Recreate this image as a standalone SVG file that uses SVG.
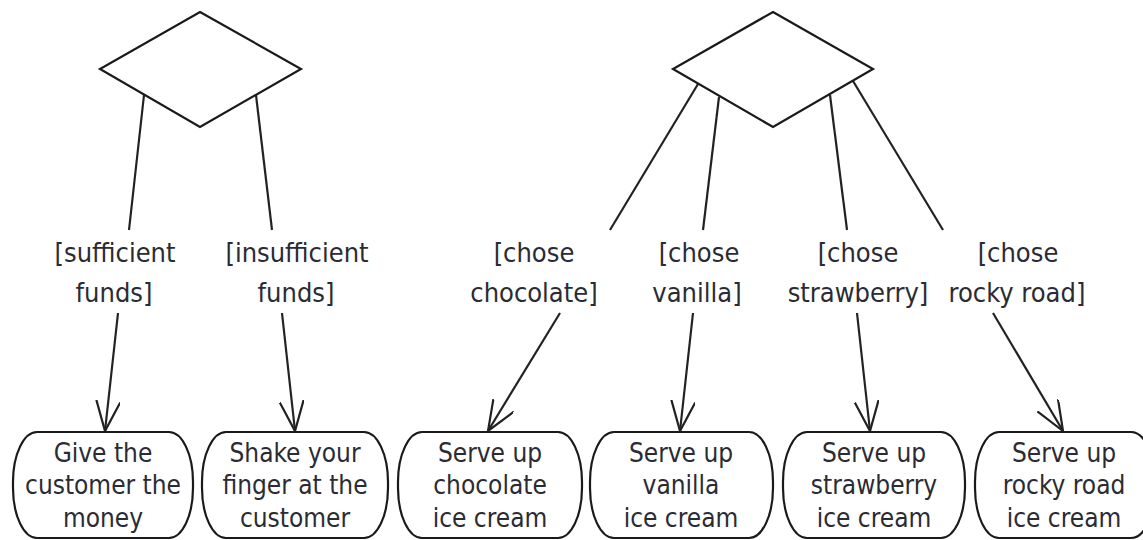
<svg xmlns="http://www.w3.org/2000/svg" width="1143" height="540" viewBox="0 0 1143 540">
<style>
.shape{fill:#fff;stroke:#1a1a1a;stroke-width:2.2}
.edge{fill:none;stroke:#222;stroke-width:2.2}
text{font-family:"DejaVu Sans Condensed","DejaVu Sans",sans-serif;font-stretch:condensed;font-size:26px;fill:#2b2b33;text-anchor:middle}
.lbl{font-size:27px}
</style>
<defs>
<marker id="arr" markerUnits="userSpaceOnUse" markerWidth="40" markerHeight="30" refX="30" refY="12" orient="auto" viewBox="0 0 40 30">
<path d="M0,0 L30,12 L0,24" fill="none" stroke="#222" stroke-width="2.2"/>
</marker>
</defs>
<rect width="1143" height="540" fill="#fff"/>
<g id="connectors">
<path class="edge" d="M144,95 L129,230"/>
<path class="edge" d="M118,313 L105,431" marker-end="url(#arr)"/>
<path class="edge" d="M256,95 L272,230"/>
<path class="edge" d="M282,313 L295,431" marker-end="url(#arr)"/>
<path class="edge" d="M698,84 L610,230"/>
<path class="edge" d="M560,313 L488,431" marker-end="url(#arr)"/>
<path class="edge" d="M719,97 L703,230"/>
<path class="edge" d="M693,313 L680,431" marker-end="url(#arr)"/>
<path class="edge" d="M830,95 L847,230"/>
<path class="edge" d="M857,313 L870,431" marker-end="url(#arr)"/>
<path class="edge" d="M853,81 L943,230"/>
<path class="edge" d="M993,313 L1063,431" marker-end="url(#arr)"/>
<g id="labels">
<text class="lbl" x="115" y="262">[sufficient</text><text class="lbl" x="114" y="302">funds]</text>
<text class="lbl" x="297" y="262">[insufficient</text><text class="lbl" x="296" y="302">funds]</text>
<text class="lbl" x="534" y="262">[chose</text><text class="lbl" x="534" y="302">chocolate]</text>
<text class="lbl" x="699" y="262">[chose</text><text class="lbl" x="697" y="302">vanilla]</text>
<text class="lbl" x="858" y="262">[chose</text><text class="lbl" x="858" y="302">strawberry]</text>
<text class="lbl" x="1018" y="262">[chose</text><text class="lbl" x="1017" y="302">rocky road]</text>
</g>
</g>
<g id="decision1"><polygon class="shape" points="200,12 301,69 200,127 100,69"/></g>
<g id="decision2"><polygon class="shape" points="773,12 873,69 773,127 673,69"/></g>
<g id="give"><rect class="shape" x="13" y="432" width="180" height="106" rx="24" ry="50"/>
<text x="103" y="462">Give the</text><text x="103" y="494">customer the</text><text x="103" y="527">money</text></g>
<g id="shake"><rect class="shape" x="202" y="432" width="186" height="106" rx="24" ry="50"/>
<text x="295" y="462">Shake your</text><text x="295" y="494">finger at the</text><text x="295" y="527">customer</text></g>
<g id="chocolate"><rect class="shape" x="398" y="432" width="184" height="106" rx="24" ry="50"/>
<text x="490" y="462">Serve up</text><text x="490" y="494">chocolate</text><text x="490" y="527">ice cream</text></g>
<g id="vanilla"><rect class="shape" x="590" y="432" width="183" height="106" rx="24" ry="50"/>
<text x="681" y="462">Serve up</text><text x="681" y="494">vanilla</text><text x="681" y="527">ice cream</text></g>
<g id="strawberry"><rect class="shape" x="783" y="432" width="182" height="106" rx="24" ry="50"/>
<text x="874" y="462">Serve up</text><text x="874" y="494">strawberry</text><text x="874" y="527">ice cream</text></g>
<g id="rockyroad"><rect class="shape" x="975" y="432" width="180" height="106" rx="24" ry="50"/>
<text x="1064" y="462">Serve up</text><text x="1064" y="494">rocky road</text><text x="1064" y="527">ice cream</text></g>
</svg>
